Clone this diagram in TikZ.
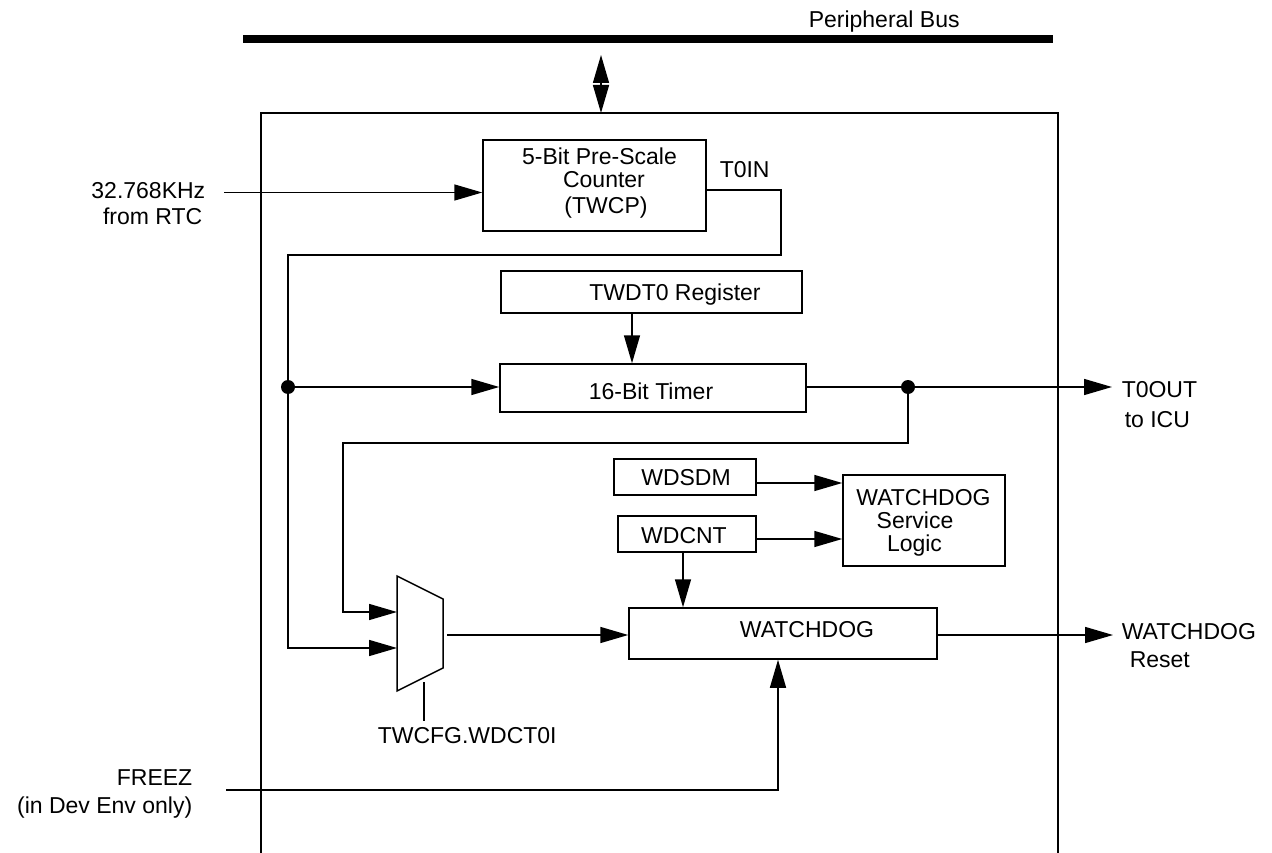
\documentclass[tikz,border=0pt]{standalone}
\usepackage{fontspec}
\setmainfont{Liberation Sans}
\usetikzlibrary{arrows.meta}
\begin{document}
\begin{tikzpicture}[x=1pt,y=-1pt,
  line width=1.5pt,
  font=\fontsize{23}{26}\selectfont,
  box/.style={draw, rectangle, inner sep=0pt},
  lbl/.style={inner sep=0pt},
  arr/.style={-{Triangle[length=28pt,width=16pt]}},
  darr/.style={{Triangle[length=28pt,width=16pt]}-{Triangle[length=28pt,width=16pt]}},
  dot/.style={circle, fill, inner sep=0pt, minimum size=14pt}]
\useasboundingbox (0,0) rectangle (1272,853);

% peripheral bus
\coordinate (busL) at (243,39);
\coordinate (busR) at (1053,39);
\draw[line width=8pt] (busL) -- (busR);
\node[lbl, anchor=base west] (busT) at (808,28) {Peripheral Bus};
\coordinate (busA) at (601,55);
\coordinate (busB) at (601,113);
\draw[darr] (busA) -- (busB);

% outer block (open at bottom)
\coordinate (oBL) at (261,853);
\coordinate (oTL) at (261,113);
\coordinate (oTR) at (1058,113);
\coordinate (oBR) at (1058,853);
\draw (oBL) -- (oTL) -- (oTR) -- (oBR);

% boxes
\node[box, minimum width=223pt, minimum height=91pt] (pre) at (594.5,185.5) {};
\node[lbl, anchor=base] (preT1) at (599.5,165) {5-Bit Pre-Scale};
\node[lbl, anchor=base] (preT2) at (604,188) {Counter};
\node[lbl, anchor=base] (preT3) at (606,214) {(TWCP)};
\node[lbl, anchor=base west] (t0in) at (719,178) {T0IN};

\node[box, minimum width=301pt, minimum height=42pt] (reg) at (651.5,292) {};
\node[lbl, anchor=base] (regT) at (675,300) {TWDT0 Register};

\node[box, minimum width=306pt, minimum height=48pt] (tmr) at (653,388) {};
\node[lbl, anchor=base] (tmrT) at (651,399) {16-Bit Timer};

\node[box, minimum width=142pt, minimum height=36pt] (wdsdm) at (685,477) {};
\node[lbl, anchor=base] (wdsdmT) at (686,485) {WDSDM};

\node[box, minimum width=138pt, minimum height=36pt] (wdcnt) at (687,534) {};
\node[lbl, anchor=base] (wdcntT) at (684,543) {WDCNT};

\node[box, minimum width=162pt, minimum height=91pt] (svc) at (924,520.5) {};
\node[lbl, anchor=base] (svcT1) at (923.5,505) {WATCHDOG};
\node[lbl, anchor=base] (svcT2) at (915,528) {Service};
\node[lbl, anchor=base] (svcT3) at (914.5,551) {Logic};

\node[box, minimum width=308pt, minimum height=51pt] (wd) at (783,633.5) {};
\node[lbl, anchor=base] (wdT) at (807,637) {WATCHDOG};

% mux
\coordinate (mTL) at (397,576);
\coordinate (mTR) at (443,599);
\coordinate (mBR) at (443,668);
\coordinate (mBL) at (397,691);
\draw (mTL) -- (mTR) -- (mBR) -- (mBL) -- cycle;
\coordinate (mi1) at (397,612);
\coordinate (mi2) at (397,648);
\coordinate (mo) at (447,635);
\coordinate (ms) at (424,682);
\coordinate (msE) at (424,721);
\draw (ms) -- (msE);
\node[lbl, anchor=base west] (selT) at (377,743) {TWCFG.WDCT0I};

% input clock
\coordinate (rtc) at (224,192.5);
\node[lbl, anchor=base east] (rtcT1) at (206,199) {32.768KHz};
\node[lbl, anchor=base east] (rtcT2) at (203,225) {from RTC};
\draw[arr] (rtc) -- (pre.west |- rtc);

% T0IN path
\coordinate (c1) at (781,190);
\coordinate (c2) at (781,255);
\coordinate (c3) at (288,255);
\coordinate (c4) at (288,648);
\draw[arr] (pre.east |- c1) -- (c1) -- (c2) -- (c3) -- (c4) -- (mi2);
\node[dot] (j1) at (288,387) {};
\draw[arr] (j1.center) -- (tmr.west |- j1);

% register to timer
\draw[arr] (reg.south -| 632,0) -- (tmr.north -| 632,0);

% timer output
\node[dot] (j2) at (908,387) {};
\coordinate (t0o) at (1112,387);
\draw[arr] (tmr.east |- t0o) -- (t0o);
\node[lbl, anchor=base west] (t0oT1) at (1121,397) {T0OUT};
\node[lbl, anchor=base west] (t0oT2) at (1124,427) {to ICU};

% feedback
\coordinate (f1) at (908,443);
\coordinate (f2) at (343,443);
\coordinate (f3) at (343,612);
\draw[arr] (j2.center) -- (f1) -- (f2) -- (f3) -- (mi1);

% watchdog service
\draw[arr] (wdsdm.east |- 0,483) -- (svc.west |- 0,483);
\draw[arr] (wdcnt.east |- 0,539) -- (svc.west |- 0,539);
\draw[arr] (wdcnt.south -| 683,0) -- (wd.north -| 683,0);

% mux to watchdog
\draw[arr] (mo) -- (wd.west |- mo);

% watchdog reset
\coordinate (rst) at (1113,635);
\draw[arr] (wd.east |- rst) -- (rst);
\node[lbl, anchor=base west] (rstT1) at (1121,639) {WATCHDOG};
\node[lbl, anchor=base west] (rstT2) at (1129,667) {Reset};

% FREEZ
\coordinate (fz) at (226,790);
\coordinate (fzc) at (778,790);
\node[lbl, anchor=base east] (fzT1) at (193,785) {FREEZ};
\node[lbl, anchor=base east] (fzT2) at (193,813) {(in Dev Env only)};
\draw[arr] (fz) -- (fzc) -- (wd.south -| fzc);
\end{tikzpicture}
\end{document}
